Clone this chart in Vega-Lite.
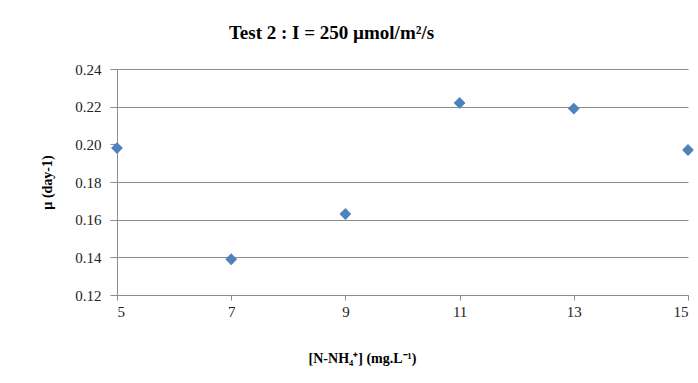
{
  "$schema": "https://vega.github.io/schema/vega-lite/v6.json",
  "width": 571,
  "height": 226,
  "autosize": "none",
  "padding": {"left": 117, "top": 69, "right": 10, "bottom": 88},
  "background": "white",
  "title": {
    "text": "Test 2 : I = 250 µmol/m²/s",
    "font": "Liberation Serif",
    "fontSize": 19,
    "fontWeight": "bold",
    "color": "#000000",
    "anchor": "middle",
    "dx": -71,
    "offset": 19
  },
  "data": {
    "values": [
      {"N": 5, "mu": 0.198},
      {"N": 7, "mu": 0.139},
      {"N": 9, "mu": 0.163},
      {"N": 11, "mu": 0.222},
      {"N": 13, "mu": 0.219},
      {"N": 15, "mu": 0.197}
    ]
  },
  "mark": {"type": "point", "shape": "diamond", "filled": true, "size": 140, "color": "#4F81BD", "opacity": 1},
  "encoding": {
    "x": {
      "field": "N",
      "type": "quantitative",
      "scale": {"domain": [5, 15], "nice": false, "zero": false},
      "axis": {
        "title": "[N-NH₄⁺] (mg.L⁻¹)",
        "values": [5, 7, 9, 11, 13, 15],
        "grid": false,
        "tickSize": 5,
        "labelPadding": 4,
        "titlePadding": 32,
        "titleX": 245
      }
    },
    "y": {
      "field": "mu",
      "type": "quantitative",
      "scale": {"domain": [0.12, 0.24], "nice": false, "zero": false},
      "axis": {
        "title": "µ (day-1)",
        "values": [0.12, 0.14, 0.16, 0.18, 0.2, 0.22, 0.24],
        "format": ".2f",
        "grid": true,
        "gridOpacity": {"condition": {"test": "abs(datum.value - 0.2) < 0.001", "value": 0}, "value": 1},
        "tickSize": 7,
        "labelPadding": 9,
        "titlePadding": 20
      }
    }
  },
  "config": {
    "view": {"stroke": null},
    "axis": {
      "labelFont": "Liberation Serif",
      "labelFontSize": 15,
      "labelColor": "#222222",
      "titleFont": "Liberation Serif",
      "titleFontSize": 14,
      "titleFontWeight": "bold",
      "titleColor": "#000000",
      "domainColor": "#8c8c8c",
      "tickColor": "#8c8c8c",
      "gridColor": "#8c8c8c",
      "domainWidth": 1,
      "tickWidth": 1,
      "gridWidth": 1
    }
  }
}
